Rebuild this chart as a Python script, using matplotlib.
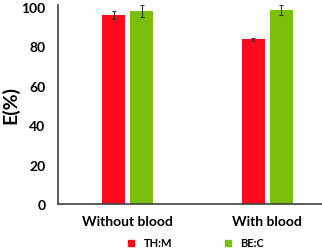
import matplotlib.pyplot as plt
from matplotlib.lines import Line2D
import numpy as np

categories = ["Without blood", "With blood"]
series_names = ["TH:M", "BE:C"]
th_m = [95.8, 83.5]
th_m_err = [2.0, 0.6]
be_c = [98.0, 98.5]
be_c_err = [3.2, 2.5]
y_ticks = [0, 20, 40, 60, 80, 100]

colors = ["#FF0A1C", "#7ABF0C"]
plt.rcParams["font.family"] = ["Lato", "DejaVu Sans"]

W, H = 322, 251
fig = plt.figure(figsize=(W / 100, H / 100), dpi=100)
ax = fig.add_axes([58 / W, (H - 205) / H, (337 - 58) / W, (205 - 6) / H])

x = np.arange(len(categories))
bw = 0.165
off = 0.1
err_kw = dict(ecolor="#333333", elinewidth=0.8, capsize=1.5, capthick=0.8)
ax.bar(x - off, th_m, bw, yerr=th_m_err, color=colors[0], error_kw=err_kw, zorder=2)
ax.bar(x + off, be_c, bw, yerr=be_c_err, color=colors[1], error_kw=err_kw, zorder=2)

ax.set_xlim(-0.5, 1.5)
ax.set_ylim(0, 101)
ax.set_yticks(y_ticks)
ax.set_xticks(x)
ax.set_xticklabels(categories, fontsize=10, fontweight="bold")
ax.tick_params(axis="y", labelsize=10, length=0, pad=9)
ax.tick_params(axis="x", length=0, pad=8)
for lab in ax.get_yticklabels():
    lab.set_fontweight("bold")
ax.set_ylabel("E(%)", fontsize=14, fontweight="bold")
ax.yaxis.set_label_coords(-0.14, 0.5)

for side in ["top", "right"]:
    ax.spines[side].set_visible(False)
for side in ["left", "bottom"]:
    ax.spines[side].set_color("#404040")
    ax.spines[side].set_linewidth(1.2)

handles = [Line2D([], [], marker="s", linestyle="", color=c, markersize=5) for c in colors]
fig.legend(handles, series_names, loc="center", bbox_to_anchor=(192 / W, (H - 244) / H),
           ncol=2, frameon=False, handletextpad=0.1, columnspacing=4.0,
           prop={"weight": "bold", "size": 8})

fig.savefig("out.png", dpi=100)
